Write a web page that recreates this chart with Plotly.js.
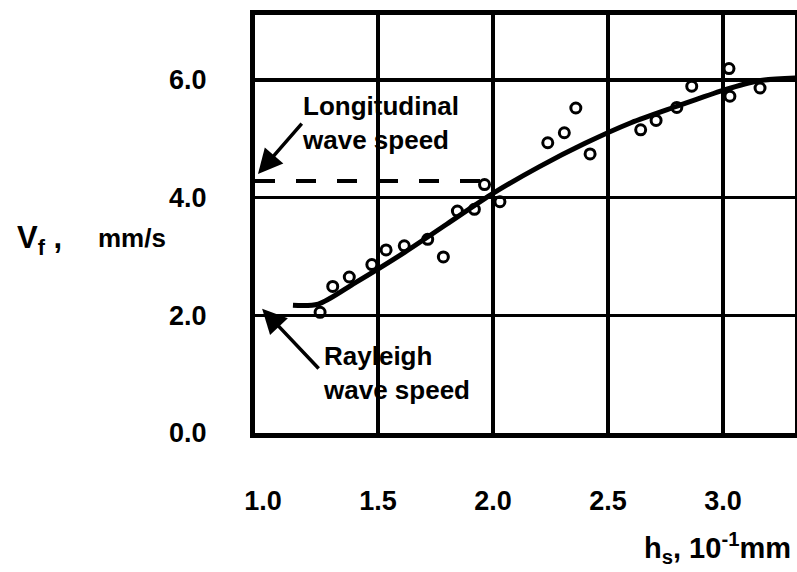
<!DOCTYPE html>
<html>
<head>
<meta charset="utf-8">
<script src="https://cdn.plot.ly/plotly-3.0.1.min.js"></script>
<style>html,body{margin:0;padding:0;background:#fff;}#chart{width:797px;height:572px;}</style>
</head>
<body>
<div id="chart"></div>
<script>
// Measured points: film thickness h_s (10^-1 mm) vs front speed V_f (mm/s)
const hs = [1.248, 1.303, 1.375, 1.473, 1.535, 1.614, 1.716, 1.784, 1.845, 1.919, 1.963, 2.030,
            2.238, 2.310, 2.360, 2.422, 2.642, 2.709, 2.799, 2.864, 3.026, 3.030, 3.161];
const vf = [2.05, 2.49, 2.65, 2.86, 3.11, 3.18, 3.29, 2.99, 3.77, 3.80, 4.22, 3.93,
            4.93, 5.10, 5.52, 4.74, 5.15, 5.31, 5.53, 5.89, 6.19, 5.72, 5.86];
// Fitted curve
const fitH = [1.13, 1.24, 1.40, 1.60, 1.80, 2.00, 2.20, 2.40, 2.60, 2.80, 3.00, 3.15, 3.32];
const fitV = [2.17, 2.19, 2.55, 3.03, 3.55, 4.07, 4.52, 4.92, 5.27, 5.55, 5.82, 5.98, 6.03];
// Longitudinal wave speed level
const longH = [0.965, 1.957];
const longV = [4.28, 4.28];
// Arrow tips / tails
const longArrow = {tipH: 0.978, tipV: 4.40, tailH: 1.174, tailV: 5.28};
const rayArrow = {tipH: 0.996, tipV: 2.11, tailH: 1.248, tailV: 1.07};
// Ticks
const xTicks = [1.0, 1.5, 2.0, 2.5, 3.0];
const xTickText = ['1.0', '1.5', '2.0', '2.5', '3.0'];
const xGrid = [1.5, 2.0, 2.5, 3.0];
const yTicks = [0, 2, 4, 6];
const yTickText = ['0.0', '2.0', '4.0', '6.0'];

const FONT = 'Liberation Sans, Arial, sans-serif';
const xRange = [0.965, 3.313];
const yRange = [0, 7.1];

const traces = [
  {x: longH, y: longV, mode: 'lines',
   line: {color: '#000', width: 4, dash: '20px,21px'}, hoverinfo: 'skip'},
  {x: fitH, y: fitV, mode: 'lines', line: {color: '#000', width: 5, shape: 'spline', smoothing: 0.8}, hoverinfo: 'skip'},
  {x: hs, y: vf, mode: 'markers',
   marker: {symbol: 'circle-open', size: 10, color: '#000', line: {width: 3, color: '#000'}}}
];

const tickFont = {family: FONT, size: 27, color: '#000', weight: 'bold'};
const layout = {
  width: 797, height: 572,
  margin: {l: 255, r: 2, t: 15, b: 139},
  paper_bgcolor: '#fff', plot_bgcolor: '#fff',
  showlegend: false,
  xaxis: {range: xRange, tickvals: xTicks, ticktext: xTickText, showgrid: false, zeroline: false,
          showline: true, linecolor: '#000', linewidth: 5, mirror: true, ticks: '',
          ticklabelstandoff: 40, tickfont: tickFont, fixedrange: true,
          minor: {tickmode: 'array', tickvals: xGrid, showgrid: true, gridcolor: '#000', gridwidth: 3.5, ticks: ''}},
  yaxis: {range: yRange, tickvals: yTicks, ticktext: yTickText, showgrid: true, gridcolor: '#000',
          gridwidth: 3.5, zeroline: false, showline: true, linecolor: '#000', linewidth: 5,
          mirror: true, ticks: '', ticklabelstandoff: 38, tickfont: tickFont, fixedrange: true},
  annotations: [
    {xref: 'paper', yref: 'paper', x: 0.0833, y: 0.7416, xanchor: 'left', yanchor: 'middle', align: 'left',
     text: 'Longitudinal<br>wave speed', showarrow: false,
     font: {family: FONT, size: 26, color: '#000', weight: 'bold'}},
    {xref: 'paper', yref: 'paper', x: 0.122, y: 0.1435, xanchor: 'left', yanchor: 'middle', align: 'left',
     text: 'Rayleigh<br>wave speed', showarrow: false,
     font: {family: FONT, size: 26, color: '#000', weight: 'bold'}},
    {xref: 'x', yref: 'y', x: longArrow.tipH, y: longArrow.tipV, axref: 'x', ayref: 'y',
     ax: longArrow.tailH, ay: longArrow.tailV, text: '', showarrow: true,
     arrowhead: 2, arrowsize: 1.4, arrowwidth: 3.5, arrowcolor: '#000', standoff: 0},
    {xref: 'x', yref: 'y', x: rayArrow.tipH, y: rayArrow.tipV, axref: 'x', ayref: 'y',
     ax: rayArrow.tailH, ay: rayArrow.tailV, text: '', showarrow: true,
     arrowhead: 2, arrowsize: 1.4, arrowwidth: 3.5, arrowcolor: '#000', standoff: 0},
    {xref: 'paper', yref: 'paper', x: -0.4444, y: 0.4617, xanchor: 'left', yanchor: 'middle',
     text: 'V<sub>f</sub> ,', showarrow: false,
     font: {family: FONT, size: 31, color: '#000', weight: 'bold'}},
    {xref: 'paper', yref: 'paper', x: -0.2944, y: 0.4665, xanchor: 'left', yanchor: 'middle',
     text: 'mm/s', showarrow: false,
     font: {family: FONT, size: 26, color: '#000', weight: 'bold'}},
    {xref: 'paper', yref: 'paper', x: 0.9963, y: -0.2751, xanchor: 'right', yanchor: 'middle',
     text: 'h<sub>s</sub>, 10<sup>-1</sup>mm', showarrow: false,
     font: {family: FONT, size: 29, color: '#000', weight: 'bold'}}
  ]
};

Plotly.newPlot('chart', traces, layout, {displayModeBar: false, staticPlot: true});
</script>
</body>
</html>
